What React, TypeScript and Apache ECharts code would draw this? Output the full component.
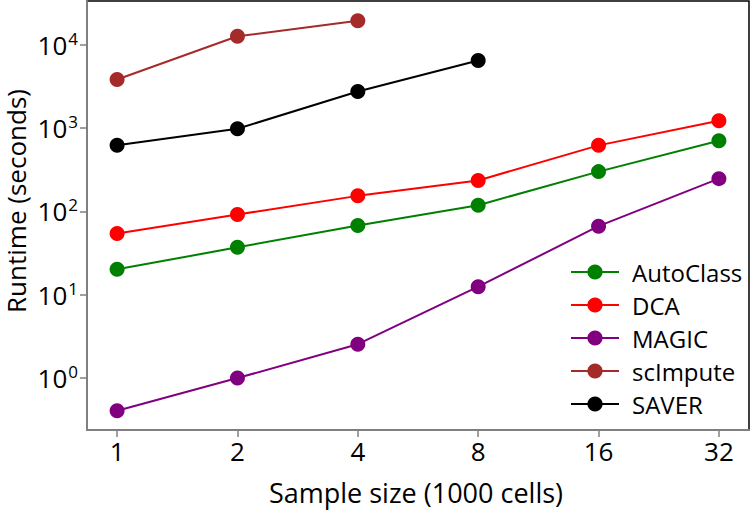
import React, { useEffect, useRef } from "react";
import * as echarts from "echarts";

const sampleSizes = ["1", "2", "4", "8", "16", "32"];
const autoClass = [20.2, 37.1, 68, 119, 301, 708];
const dca = [54.5, 92, 154, 236, 622, 1230];
const magic = [0.406, 1.0, 2.55, 12.5, 66.7, 248];
const scImpute = [3840, 12680, 19540];
const saver = [622, 986, 2760, 6490];
const yTicks = [1, 10, 100, 1000, 10000];

const FONT = "Open Sans";

const seriesDefs = [
  { name: "AutoClass", data: autoClass, color: "#008000" },
  { name: "DCA", data: dca, color: "#ff0000" },
  { name: "MAGIC", data: magic, color: "#800080" },
  { name: "scImpute", data: scImpute, color: "#a52a2a" },
  { name: "SAVER", data: saver, color: "#000000" },
];

export default function App() {
  const ref = useRef<HTMLDivElement>(null);
  useEffect(() => {
    if (!ref.current) return;
    const chart = echarts.init(ref.current, null, { renderer: "svg" });
    chart.setOption({
      animation: false,
      backgroundColor: "#ffffff",
      textStyle: { fontFamily: FONT },
      grid: {
        left: 87,
        right: 1,
        top: 1,
        bottom: 80,
        show: true,
        borderColor: "#000000",
        borderWidth: 1.5,
        backgroundColor: "transparent",
      },
      xAxis: {
        type: "value",
        min: -0.25,
        max: 5.25,
        splitLine: { show: false },
        axisLine: { show: true, onZero: false, lineStyle: { color: "#808080", width: 2 } },
        axisTick: {
          show: true,
          length: 7,
          customValues: [0, 1, 2, 3, 4, 5],
          lineStyle: { color: "#808080", width: 1.5 },
        },
        axisLabel: {
          customValues: [0, 1, 2, 3, 4, 5],
          formatter: (v: number) => sampleSizes[Math.round(v)] ?? "",
          fontFamily: FONT,
          fontSize: 26,
          color: "#000000",
          margin: 8,
        },
      },
      yAxis: {
        type: "log",
        logBase: 10,
        min: 0.238,
        max: 33650,
        splitLine: { show: false },
        axisLine: { show: true, onZero: false, lineStyle: { color: "#808080", width: 2 } },
        axisTick: {
          show: true,
          length: 7,
          customValues: yTicks,
          lineStyle: { color: "#808080", width: 1.5 },
        },
        axisLabel: {
          customValues: yTicks,
          formatter: (v: number) => {
            const e = Math.round(Math.log10(v));
            return "{b|10}{s|" + e + "}";
          },
          margin: 9,
          rich: {
            b: { fontFamily: FONT, fontSize: 26, color: "#000", lineHeight: 30 },
            s: { fontFamily: FONT, fontSize: 17, color: "#000", verticalAlign: "top", lineHeight: 17, padding: [0, 0, 0, 1] },
          },
        },
      },
      legend: {
        orient: "vertical",
        left: 565,
        top: 255,
        itemWidth: 48,
        itemHeight: 19,
        itemGap: 9,
        textStyle: { fontFamily: FONT, fontSize: 24, color: "#000", padding: [0, 0, 0, 8] },
        data: seriesDefs.map((s) => s.name),
      },
      graphic: [
        {
          type: "text",
          x: 16,
          y: 201,
          rotation: Math.PI / 2,
          style: {
            text: "Runtime (seconds)",
            fontFamily: FONT,
            fontSize: 26,
            lineHeight: 26,
            fill: "#000",
            textAlign: "center",
            textVerticalAlign: "middle",
          },
        },
        {
          type: "text",
          x: 416,
          y: 492,
          style: {
            text: "Sample size (1000 cells)",
            fontFamily: FONT,
            fontSize: 27,
            lineHeight: 27,
            fill: "#000",
            textAlign: "center",
            textVerticalAlign: "middle",
          },
        },
      ],
      series: seriesDefs.map((s) => ({
        name: s.name,
        type: "line",
        data: s.data.map((v, i) => [i, v]),
        symbol: "circle",
        symbolSize: 15,
        showSymbol: true,
        itemStyle: { color: s.color },
        lineStyle: { color: s.color, width: 2 },
      })),
    });
    return () => chart.dispose();
  }, []);
  return (
    <div
      ref={ref}
      style={{ position: "absolute", left: 0, top: 0, width: 750, height: 510 }}
    />
  );
}
